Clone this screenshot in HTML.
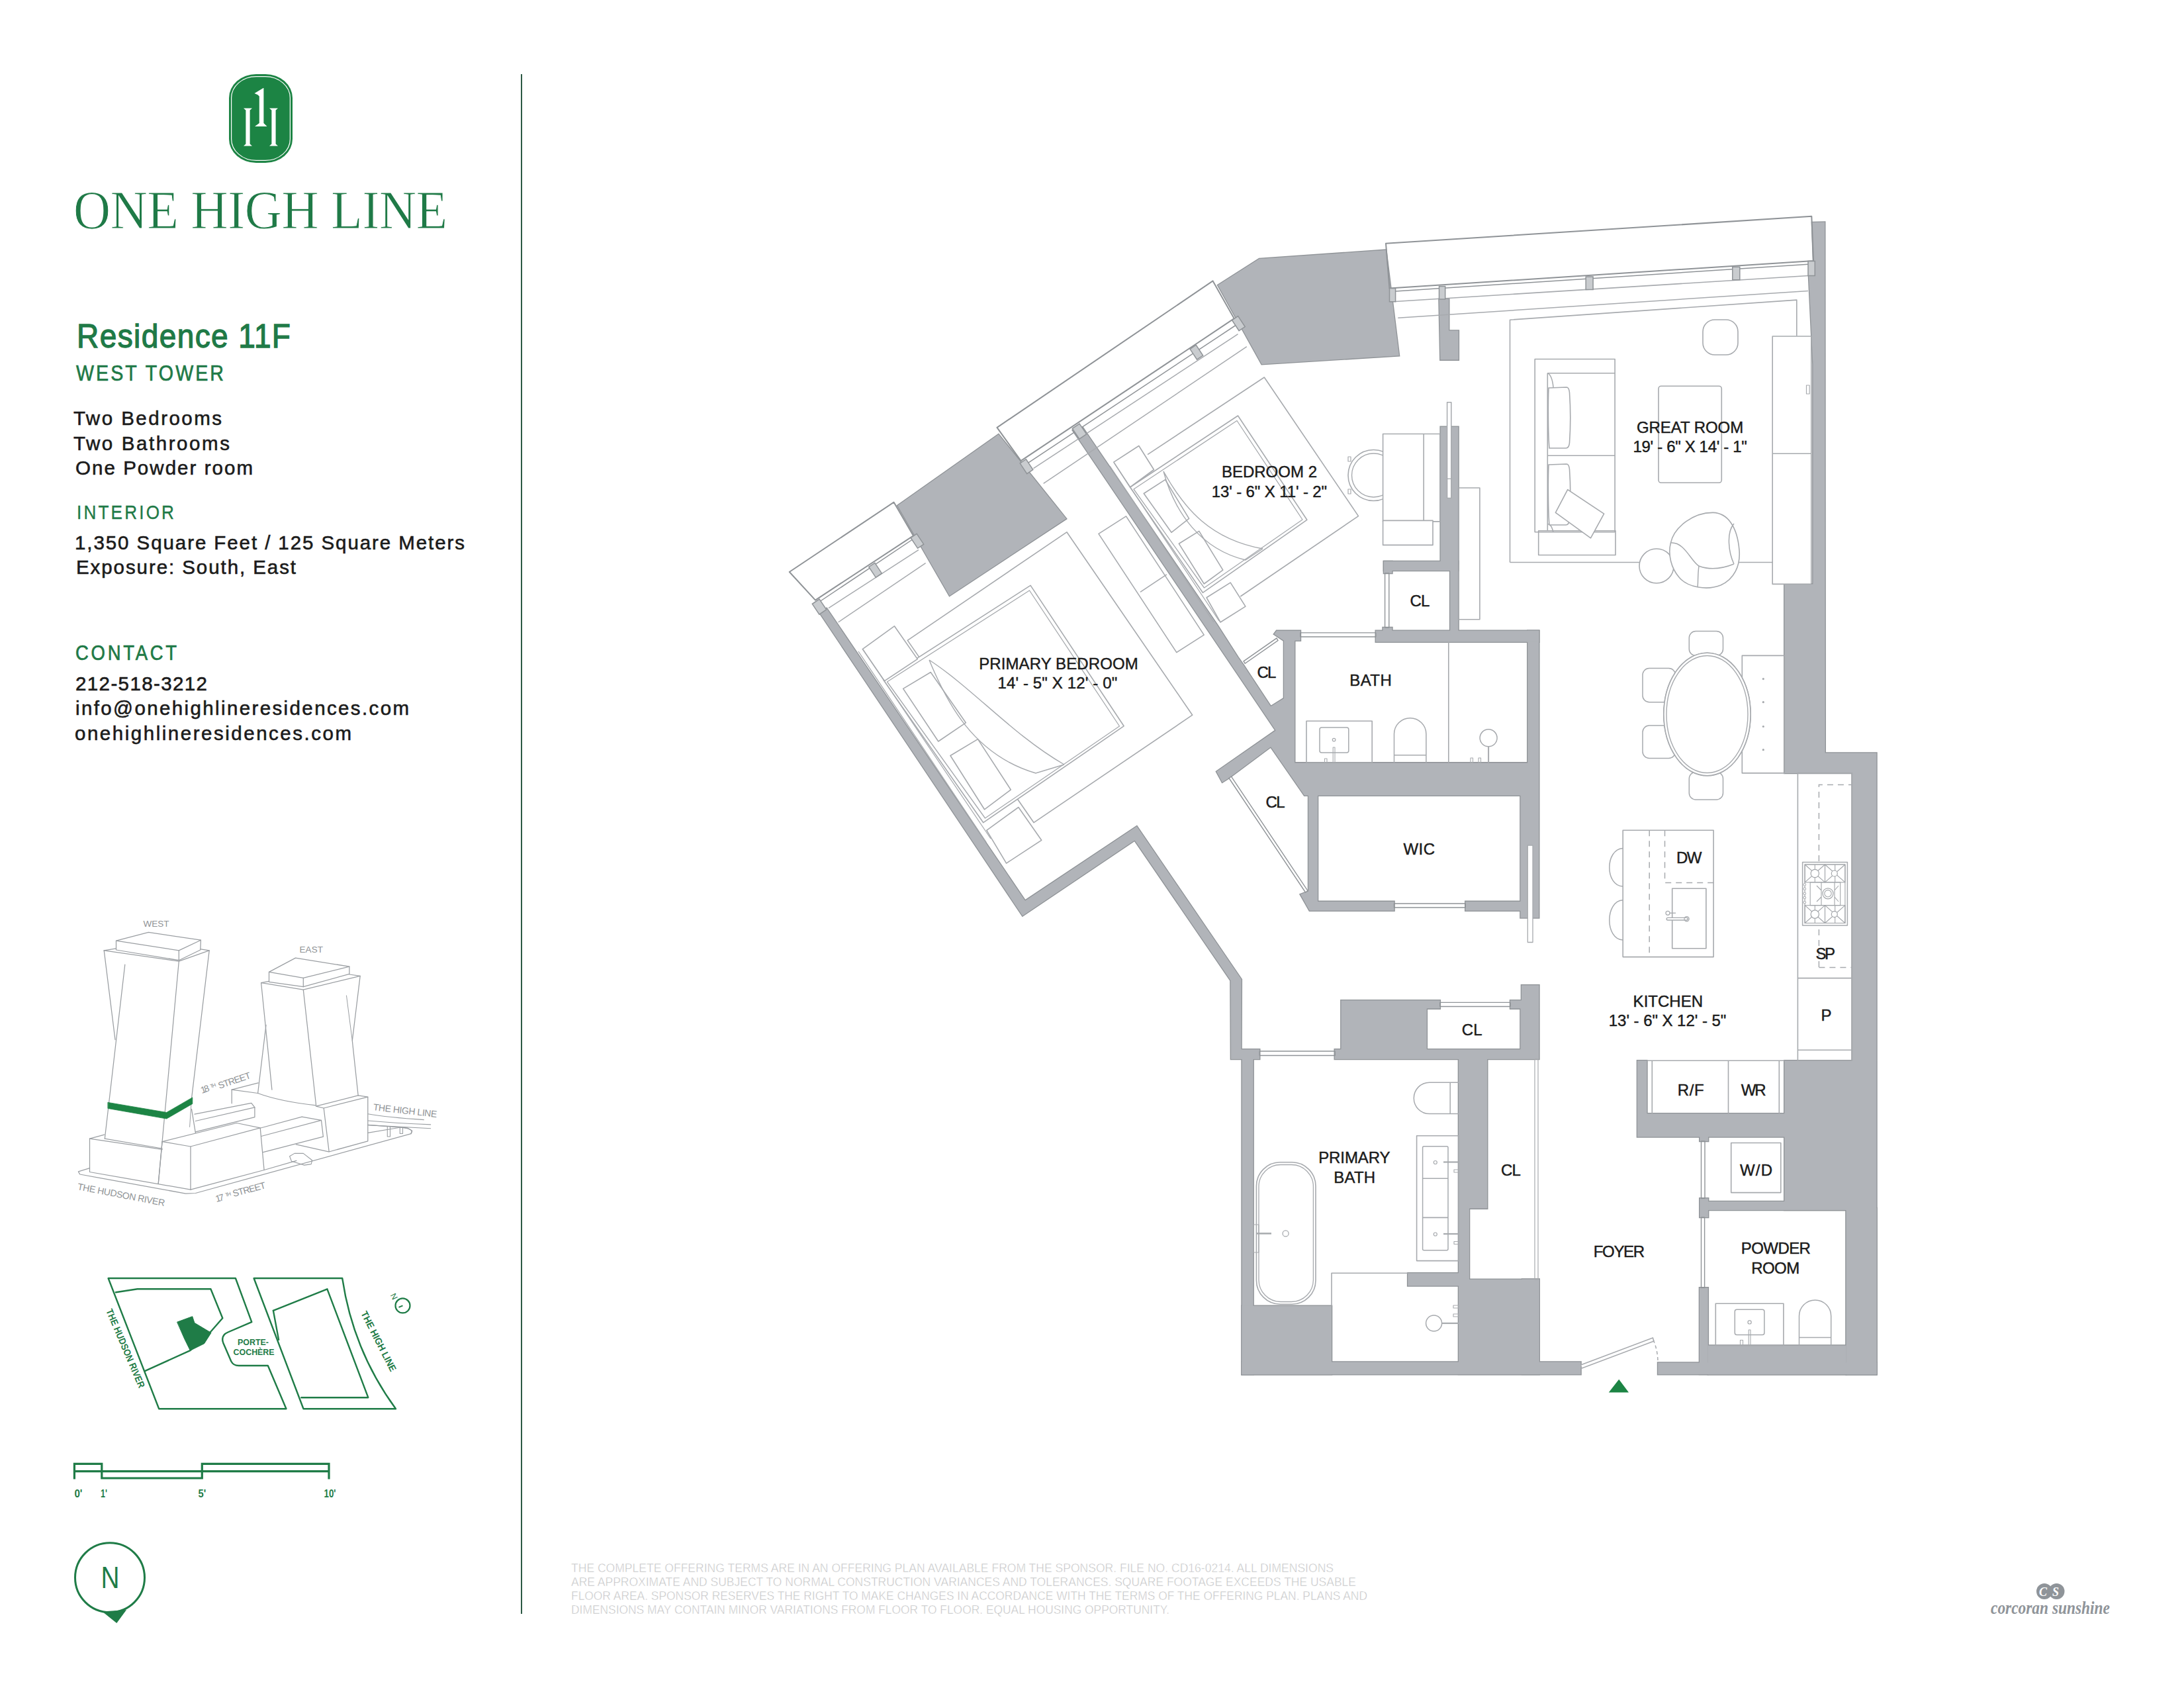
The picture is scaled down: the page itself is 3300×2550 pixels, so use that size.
<!DOCTYPE html>
<html><head><meta charset="utf-8"><style>
html,body{margin:0;padding:0;background:#fff;width:3300px;height:2550px;overflow:hidden}
svg{display:block}
</style></head><body>
<svg width="3300" height="2550" viewBox="0 0 3300 2550">
<rect width="3300" height="2550" fill="#ffffff"/>
<rect x="346" y="112" width="96" height="134" rx="41" ry="36" fill="#1c8444"/>
<rect x="349.6" y="115.6" width="88.8" height="126.8" rx="37.5" ry="32.5" fill="none" stroke="#ffffff" stroke-width="1.2"/>
<path d="M368.0,163.5 L381.0,163.5 L377.6,166.5 L377.6,217.5 L381.0,220.5 L368.0,220.5 L371.4,217.5 L371.4,166.5 Z" fill="#ffffff"/>
<path d="M407.0,163.5 L420.0,163.5 L416.6,166.5 L416.6,217.5 L420.0,220.5 L407.0,220.5 L410.4,217.5 L410.4,166.5 Z" fill="#ffffff"/>
<path d="M384.5,141 L397.8,133 L398.4,133 L398.4,186 L403.5,191 L385,191 L391.8,186 L391.8,145.5 L389.5,143.2 Z" fill="#ffffff"/>
<g transform="translate(111,344.7) scale(0.94,1)"><text x="0" y="0" font-family="Liberation Serif" font-size="82.5" fill="#1f7a47" textLength="601.1" lengthAdjust="spacing" stroke="#ffffff" stroke-width="1.0">ONE HIGH LINE</text></g>
<g transform="translate(116,525) scale(0.93,1)"><text x="0" y="0" font-family="Liberation Sans" font-size="49.5" fill="#1f7a47" textLength="347.3" lengthAdjust="spacing" stroke="#1f7a47" stroke-width="1.3">Residence 11F</text></g>
<g transform="translate(115,575.3) scale(0.88,1)"><text x="0" y="0" font-family="Liberation Sans" font-size="32.5" fill="#1f7a47" textLength="253.4" lengthAdjust="spacing" stroke="#1f7a47" stroke-width="0.7">WEST TOWER</text></g>
<text x="111" y="642" font-family="Liberation Sans" font-size="29.5" font-weight="normal" fill="#1b1b1b" text-anchor="start" textLength="224" lengthAdjust="spacing" stroke="#1b1b1b" stroke-width="0.6">Two Bedrooms</text>
<text x="111" y="680" font-family="Liberation Sans" font-size="29.5" font-weight="normal" fill="#1b1b1b" text-anchor="start" textLength="236" lengthAdjust="spacing" stroke="#1b1b1b" stroke-width="0.6">Two Bathrooms</text>
<text x="114" y="717.4" font-family="Liberation Sans" font-size="29.5" font-weight="normal" fill="#1b1b1b" text-anchor="start" textLength="268" lengthAdjust="spacing" stroke="#1b1b1b" stroke-width="0.6">One Powder room</text>
<g transform="translate(116,783.5) scale(0.9,1)"><text x="0" y="0" font-family="Liberation Sans" font-size="29" fill="#1f7a47" textLength="163.3" lengthAdjust="spacing" stroke="#1f7a47" stroke-width="0.4">INTERIOR</text></g>
<text x="113" y="830" font-family="Liberation Sans" font-size="29.5" font-weight="normal" fill="#1b1b1b" text-anchor="start" textLength="589" lengthAdjust="spacing" stroke="#1b1b1b" stroke-width="0.6">1,350 Square Feet / 125 Square Meters</text>
<text x="115" y="867" font-family="Liberation Sans" font-size="29.5" font-weight="normal" fill="#1b1b1b" text-anchor="start" textLength="332" lengthAdjust="spacing" stroke="#1b1b1b" stroke-width="0.6">Exposure: South, East</text>
<g transform="translate(114,997) scale(0.9,1)"><text x="0" y="0" font-family="Liberation Sans" font-size="30.5" fill="#1f7a47" textLength="170.0" lengthAdjust="spacing" stroke="#1f7a47" stroke-width="0.7">CONTACT</text></g>
<text x="114" y="1042.8" font-family="Liberation Sans" font-size="29.5" font-weight="normal" fill="#1b1b1b" text-anchor="start" textLength="199" lengthAdjust="spacing" stroke="#1b1b1b" stroke-width="0.6">212-518-3212</text>
<text x="114" y="1080" font-family="Liberation Sans" font-size="29.5" font-weight="normal" fill="#1b1b1b" text-anchor="start" textLength="504" lengthAdjust="spacing" stroke="#1b1b1b" stroke-width="0.6">info@onehighlineresidences.com</text>
<text x="113" y="1118" font-family="Liberation Sans" font-size="29.5" font-weight="normal" fill="#1b1b1b" text-anchor="start" textLength="418" lengthAdjust="spacing" stroke="#1b1b1b" stroke-width="0.6">onehighlineresidences.com</text>
<rect x="787" y="112" width="2" height="2326" fill="#2d5a45"/>
<text x="863" y="2374.5" font-family="Liberation Sans" font-size="19" font-weight="normal" fill="#bdbec0" text-anchor="start" textLength="1152" lengthAdjust="spacingAndGlyphs" stroke="#ffffff" stroke-width="0.55">THE COMPLETE OFFERING TERMS ARE IN AN OFFERING PLAN AVAILABLE FROM THE SPONSOR. FILE NO. CD16-0214. ALL DIMENSIONS</text>
<text x="863" y="2395.6" font-family="Liberation Sans" font-size="19" font-weight="normal" fill="#bdbec0" text-anchor="start" textLength="1186" lengthAdjust="spacingAndGlyphs" stroke="#ffffff" stroke-width="0.55">ARE APPROXIMATE AND SUBJECT TO NORMAL CONSTRUCTION VARIANCES AND TOLERANCES. SQUARE FOOTAGE EXCEEDS THE USABLE</text>
<text x="863" y="2416.7" font-family="Liberation Sans" font-size="19" font-weight="normal" fill="#bdbec0" text-anchor="start" textLength="1203" lengthAdjust="spacingAndGlyphs" stroke="#ffffff" stroke-width="0.55">FLOOR AREA. SPONSOR RESERVES THE RIGHT TO MAKE CHANGES IN ACCORDANCE WITH THE TERMS OF THE OFFERING PLAN. PLANS AND</text>
<text x="863" y="2437.8" font-family="Liberation Sans" font-size="19" font-weight="normal" fill="#bdbec0" text-anchor="start" textLength="904" lengthAdjust="spacingAndGlyphs" stroke="#ffffff" stroke-width="0.55">DIMENSIONS MAY CONTAIN MINOR VARIATIONS FROM FLOOR TO FLOOR. EQUAL HOUSING OPPORTUNITY.</text>
<circle cx="3089" cy="2404" r="12" fill="#8f9499"/><circle cx="3107.5" cy="2404" r="12" fill="#8f9499"/>
<text x="3081" y="2411" font-family="Liberation Serif" font-size="18" font-weight="bold" fill="#ffffff" text-anchor="start" font-style="italic">C</text>
<text x="3101" y="2411" font-family="Liberation Serif" font-size="18" font-weight="bold" fill="#ffffff" text-anchor="start" font-style="italic">S</text>
<text x="3008" y="2437.7" font-family="Liberation Serif" font-size="27" font-weight="bold" fill="#8f9499" text-anchor="start" textLength="180" lengthAdjust="spacingAndGlyphs" font-style="italic">corcoran sunshine</text>
<polygon points="1238.0,925.0 1545.0,1383.5 1714.5,1269.4 1859.5,1481.2 1860.0,1600.0 1903.2,1600.0 1903.2,1585.2 1875.5,1585.2 1875.8,1479.6 1717.7,1248.3 1549.0,1360.7 1249.0,919.0" fill="#8f9397" stroke="#8f9397" stroke-width="2.6" stroke-linejoin="miter"/>
<polygon points="1876.6,1595.0 1893.6,1595.0 1893.6,2076.2 1876.6,2076.2" fill="#8f9397" stroke="#8f9397" stroke-width="2.6" stroke-linejoin="miter"/>
<polygon points="1876.6,1972.8 2012.0,1972.8 2012.0,2076.2 1876.6,2076.2" fill="#8f9397" stroke="#8f9397" stroke-width="2.6" stroke-linejoin="miter"/>
<polygon points="1876.6,2057.5 2388.5,2057.5 2388.5,2076.2 1876.6,2076.2" fill="#8f9397" stroke="#8f9397" stroke-width="2.6" stroke-linejoin="miter"/>
<polygon points="2505.1,2058.5 2835.4,2058.5 2835.4,2076.2 2505.1,2076.2" fill="#8f9397" stroke="#8f9397" stroke-width="2.6" stroke-linejoin="miter"/>
<polygon points="2127.2,1923.2 2204.0,1923.2 2204.0,1942.4 2127.2,1942.4" fill="#8f9397" stroke="#8f9397" stroke-width="2.6" stroke-linejoin="miter"/>
<polygon points="2204.0,1596.0 2247.2,1596.0 2247.2,1825.6 2220.0,1825.6 2220.0,1932.8 2325.6,1932.8 2325.6,2076.0 2204.0,2076.0" fill="#8f9397" stroke="#8f9397" stroke-width="2.6" stroke-linejoin="miter"/>
<polygon points="2300.0,1932.6 2325.6,1932.6 2325.6,2076.0 2300.0,2076.0" fill="#8f9397" stroke="#8f9397" stroke-width="2.6" stroke-linejoin="miter"/>
<polygon points="2026.4,1511.3 2175.8,1511.3 2175.8,1523.6 2155.8,1523.6 2155.8,1585.2 2297.5,1585.2 2297.5,1523.6 2282.1,1523.6 2282.1,1511.3 2299.0,1511.3 2299.0,1488.2 2325.4,1488.2 2325.4,1600.0 2016.8,1600.0 2016.8,1585.2 2026.4,1585.2" fill="#8f9397" stroke="#8f9397" stroke-width="2.6" stroke-linejoin="miter"/>
<polygon points="1621.0,650.0 1636.0,646.0 1839.3,944.2 1870.4,992.7 1879.1,1005.1 1920.1,1067.3 1940.0,1054.9 1940.0,967.8 1925.1,957.9 1928.9,952.9 1964.9,952.9 1964.9,967.8 1956.2,967.8 1956.2,1152.4 2308.3,1152.4 2308.3,952.7 2325.3,952.7 2325.2,1386.5 2297.5,1386.5 2297.5,1375.7 2214.3,1375.7 2214.3,1361.9 2297.5,1361.9 2297.5,1201.7 1991.0,1201.7 1991.0,1361.9 2106.5,1361.9 2106.5,1375.7 1978.7,1375.7 1964.8,1351.1 1977.1,1346.5 1977.1,1201.7 1971.0,1201.7 1920.1,1128.3 1856.7,1175.5 1846.8,1181.7 1838.1,1165.6 1927.6,1103.4" fill="#8f9397" stroke="#8f9397" stroke-width="2.6" stroke-linejoin="miter"/>
<polygon points="2078.8,952.7 2325.3,952.7 2325.3,969.7 2078.8,969.7" fill="#8f9397" stroke="#8f9397" stroke-width="2.6" stroke-linejoin="miter"/>
<polygon points="2176.7,644.7 2203.5,644.7 2203.5,852.0 2176.7,852.0" fill="#8f9397" stroke="#8f9397" stroke-width="2.6" stroke-linejoin="miter"/>
<polygon points="2091.0,848.0 2203.5,848.0 2203.5,861.9 2091.0,861.9" fill="#8f9397" stroke="#8f9397" stroke-width="2.6" stroke-linejoin="miter"/>
<polygon points="2091.0,848.0 2103.4,848.0 2103.4,866.0 2091.0,866.0" fill="#8f9397" stroke="#8f9397" stroke-width="2.6" stroke-linejoin="miter"/>
<polygon points="2191.2,848.0 2203.5,848.0 2203.5,960.0 2191.2,960.0" fill="#8f9397" stroke="#8f9397" stroke-width="2.6" stroke-linejoin="miter"/>
<polygon points="2089.6,948.0 2103.4,948.0 2103.4,960.0 2089.6,960.0" fill="#8f9397" stroke="#8f9397" stroke-width="2.6" stroke-linejoin="miter"/>
<polygon points="2738.0,336.0 2757.2,335.6 2757.7,1137.5 2835.4,1137.5 2835.4,2076.2 2789.7,2076.2 2789.7,1827.9 2696.3,1827.9 2696.3,1602.3 2798.6,1602.3 2798.6,1167.9 2696.3,1167.9 2696.3,882.4 2739.4,882.4 2739.4,550.0 2733.0,416.6 2740.0,394.0" fill="#8f9397" stroke="#8f9397" stroke-width="2.6" stroke-linejoin="miter"/>
<polygon points="2474.0,1602.3 2488.4,1602.3 2488.4,1682.3 2700.0,1682.3 2700.0,1717.5 2474.0,1717.5" fill="#8f9397" stroke="#8f9397" stroke-width="2.6" stroke-linejoin="miter"/>
<polygon points="2568.3,1712.7 2581.1,1712.7 2581.1,1723.9 2568.3,1723.9" fill="#8f9397" stroke="#8f9397" stroke-width="2.6" stroke-linejoin="miter"/>
<polygon points="2576.3,1815.0 2792.0,1815.0 2792.0,1827.9 2576.3,1827.9" fill="#8f9397" stroke="#8f9397" stroke-width="2.6" stroke-linejoin="miter"/>
<polygon points="2568.3,1810.3 2581.1,1810.3 2581.1,1839.0 2568.3,1839.0" fill="#8f9397" stroke="#8f9397" stroke-width="2.6" stroke-linejoin="miter"/>
<polygon points="2568.0,1945.4 2580.8,1945.4 2580.8,2076.0 2568.0,2076.0" fill="#8f9397" stroke="#8f9397" stroke-width="2.6" stroke-linejoin="miter"/>
<polygon points="2789.7,1825.0 2835.4,1825.0 2835.4,2076.2 2789.7,2076.2" fill="#8f9397" stroke="#8f9397" stroke-width="2.6" stroke-linejoin="miter"/>
<polygon points="2580.8,2032.6 2789.7,2032.6 2789.7,2076.2 2580.8,2076.2" fill="#8f9397" stroke="#8f9397" stroke-width="2.6" stroke-linejoin="miter"/>
<polygon points="1356.2,763.7 1508.8,656.2 1611.0,783.6 1434.7,900.0" fill="#8f9397" stroke="#8f9397" stroke-width="2.6" stroke-linejoin="miter"/>
<polygon points="1840.2,430.8 1902.7,391.0 2094.2,377.7 2114.0,537.2 1906.5,550.2" fill="#8f9397" stroke="#8f9397" stroke-width="2.6" stroke-linejoin="miter"/>
<polygon points="2174.5,452.0 2189.2,452.0 2189.2,499.6 2203.8,499.6 2203.8,543.6 2176.4,543.6" fill="#8f9397" stroke="#8f9397" stroke-width="2.6" stroke-linejoin="miter"/>
<polygon points="1238.0,925.0 1545.0,1383.5 1714.5,1269.4 1859.5,1481.2 1860.0,1600.0 1903.2,1600.0 1903.2,1585.2 1875.5,1585.2 1875.8,1479.6 1717.7,1248.3 1549.0,1360.7 1249.0,919.0" fill="#b1b4b9"/>
<polygon points="1876.6,1595.0 1893.6,1595.0 1893.6,2076.2 1876.6,2076.2" fill="#b1b4b9"/>
<polygon points="1876.6,1972.8 2012.0,1972.8 2012.0,2076.2 1876.6,2076.2" fill="#b1b4b9"/>
<polygon points="1876.6,2057.5 2388.5,2057.5 2388.5,2076.2 1876.6,2076.2" fill="#b1b4b9"/>
<polygon points="2505.1,2058.5 2835.4,2058.5 2835.4,2076.2 2505.1,2076.2" fill="#b1b4b9"/>
<polygon points="2127.2,1923.2 2204.0,1923.2 2204.0,1942.4 2127.2,1942.4" fill="#b1b4b9"/>
<polygon points="2204.0,1596.0 2247.2,1596.0 2247.2,1825.6 2220.0,1825.6 2220.0,1932.8 2325.6,1932.8 2325.6,2076.0 2204.0,2076.0" fill="#b1b4b9"/>
<polygon points="2300.0,1932.6 2325.6,1932.6 2325.6,2076.0 2300.0,2076.0" fill="#b1b4b9"/>
<polygon points="2026.4,1511.3 2175.8,1511.3 2175.8,1523.6 2155.8,1523.6 2155.8,1585.2 2297.5,1585.2 2297.5,1523.6 2282.1,1523.6 2282.1,1511.3 2299.0,1511.3 2299.0,1488.2 2325.4,1488.2 2325.4,1600.0 2016.8,1600.0 2016.8,1585.2 2026.4,1585.2" fill="#b1b4b9"/>
<polygon points="1621.0,650.0 1636.0,646.0 1839.3,944.2 1870.4,992.7 1879.1,1005.1 1920.1,1067.3 1940.0,1054.9 1940.0,967.8 1925.1,957.9 1928.9,952.9 1964.9,952.9 1964.9,967.8 1956.2,967.8 1956.2,1152.4 2308.3,1152.4 2308.3,952.7 2325.3,952.7 2325.2,1386.5 2297.5,1386.5 2297.5,1375.7 2214.3,1375.7 2214.3,1361.9 2297.5,1361.9 2297.5,1201.7 1991.0,1201.7 1991.0,1361.9 2106.5,1361.9 2106.5,1375.7 1978.7,1375.7 1964.8,1351.1 1977.1,1346.5 1977.1,1201.7 1971.0,1201.7 1920.1,1128.3 1856.7,1175.5 1846.8,1181.7 1838.1,1165.6 1927.6,1103.4" fill="#b1b4b9"/>
<polygon points="2078.8,952.7 2325.3,952.7 2325.3,969.7 2078.8,969.7" fill="#b1b4b9"/>
<polygon points="2176.7,644.7 2203.5,644.7 2203.5,852.0 2176.7,852.0" fill="#b1b4b9"/>
<polygon points="2091.0,848.0 2203.5,848.0 2203.5,861.9 2091.0,861.9" fill="#b1b4b9"/>
<polygon points="2091.0,848.0 2103.4,848.0 2103.4,866.0 2091.0,866.0" fill="#b1b4b9"/>
<polygon points="2191.2,848.0 2203.5,848.0 2203.5,960.0 2191.2,960.0" fill="#b1b4b9"/>
<polygon points="2089.6,948.0 2103.4,948.0 2103.4,960.0 2089.6,960.0" fill="#b1b4b9"/>
<polygon points="2738.0,336.0 2757.2,335.6 2757.7,1137.5 2835.4,1137.5 2835.4,2076.2 2789.7,2076.2 2789.7,1827.9 2696.3,1827.9 2696.3,1602.3 2798.6,1602.3 2798.6,1167.9 2696.3,1167.9 2696.3,882.4 2739.4,882.4 2739.4,550.0 2733.0,416.6 2740.0,394.0" fill="#b1b4b9"/>
<polygon points="2474.0,1602.3 2488.4,1602.3 2488.4,1682.3 2700.0,1682.3 2700.0,1717.5 2474.0,1717.5" fill="#b1b4b9"/>
<polygon points="2568.3,1712.7 2581.1,1712.7 2581.1,1723.9 2568.3,1723.9" fill="#b1b4b9"/>
<polygon points="2576.3,1815.0 2792.0,1815.0 2792.0,1827.9 2576.3,1827.9" fill="#b1b4b9"/>
<polygon points="2568.3,1810.3 2581.1,1810.3 2581.1,1839.0 2568.3,1839.0" fill="#b1b4b9"/>
<polygon points="2568.0,1945.4 2580.8,1945.4 2580.8,2076.0 2568.0,2076.0" fill="#b1b4b9"/>
<polygon points="2789.7,1825.0 2835.4,1825.0 2835.4,2076.2 2789.7,2076.2" fill="#b1b4b9"/>
<polygon points="2580.8,2032.6 2789.7,2032.6 2789.7,2076.2 2580.8,2076.2" fill="#b1b4b9"/>
<polygon points="1356.2,763.7 1508.8,656.2 1611.0,783.6 1434.7,900.0" fill="#b1b4b9"/>
<polygon points="1840.2,430.8 1902.7,391.0 2094.2,377.7 2114.0,537.2 1906.5,550.2" fill="#b1b4b9"/>
<polygon points="2174.5,452.0 2189.2,452.0 2189.2,499.6 2203.8,499.6 2203.8,543.6 2176.4,543.6" fill="#b1b4b9"/>
<polygon points="2094.0,367.8 2737.3,326.8 2740.1,393.9 2099.5,435.5" fill="none" stroke="#8f9397" stroke-width="2.0" stroke-linejoin="round"/>
<polygon points="1506.5,645.8 1832.6,424.4 1864.8,481.2 1542.6,696.2" fill="none" stroke="#8f9397" stroke-width="2.0" stroke-linejoin="round"/>
<polygon points="1192.8,864.0 1350.6,758.7 1380.0,809.3 1232.0,906.6" fill="none" stroke="#8f9397" stroke-width="2.0" stroke-linejoin="round"/>
<line x1="2108.6" y1="440.0" x2="2732.0" y2="399.3" stroke="#8f9397" stroke-width="1.5"/>
<line x1="2108.0" y1="455.5" x2="2732.0" y2="416.5" stroke="#a7aaae" stroke-width="1.5"/>
<line x1="2112.3" y1="480.2" x2="2732.0" y2="439.5" stroke="#a7aaae" stroke-width="1.5"/>
<polygon points="2099.5,435.5 2108.6,435.5 2108.6,455.7 2099.5,455.7" fill="#c9cccf" stroke="#8f9397" stroke-width="1.5" stroke-linejoin="miter"/>
<polygon points="2174.5,432.6 2183.7,432.6 2183.7,452.0 2174.5,452.0" fill="#c9cccf" stroke="#8f9397" stroke-width="1.5" stroke-linejoin="miter"/>
<polygon points="2396.2,418.0 2407.1,418.0 2407.1,437.4 2396.2,437.4" fill="#c9cccf" stroke="#8f9397" stroke-width="1.5" stroke-linejoin="miter"/>
<polygon points="2617.8,403.3 2628.8,403.3 2628.8,422.7 2617.8,422.7" fill="#c9cccf" stroke="#8f9397" stroke-width="1.5" stroke-linejoin="miter"/>
<polygon points="2732.0,394.5 2742.3,394.5 2742.3,416.5 2732.0,416.5" fill="#c9cccf" stroke="#8f9397" stroke-width="1.5" stroke-linejoin="miter"/>
<line x1="1553.0" y1="699.6" x2="1867.7" y2="491.0" stroke="#8f9397" stroke-width="1.5"/>
<line x1="1561.5" y1="707.6" x2="1870.5" y2="504.7" stroke="#a7aaae" stroke-width="1.5"/>
<line x1="1576.7" y1="730.3" x2="1883.8" y2="523.7" stroke="#a7aaae" stroke-width="1.5"/>
<polygon points="1550.3,693.7 1560.8,709.6 1551.7,715.7 1541.2,699.8" fill="#c9cccf" stroke="#8f9397" stroke-width="1.5" stroke-linejoin="miter"/>
<polygon points="1807.2,521.2 1817.7,537.1 1808.6,543.2 1798.1,527.3" fill="#c9cccf" stroke="#8f9397" stroke-width="1.5" stroke-linejoin="miter"/>
<polygon points="1870.7,477.6 1881.2,493.5 1872.1,499.6 1861.6,483.7" fill="#c9cccf" stroke="#8f9397" stroke-width="1.5" stroke-linejoin="miter"/>
<line x1="1234.5" y1="911.5" x2="1379.5" y2="814.5" stroke="#8f9397" stroke-width="1.5"/>
<line x1="1252.0" y1="918.6" x2="1388.0" y2="830.6" stroke="#a7aaae" stroke-width="1.5"/>
<line x1="1266.6" y1="940.0" x2="1398.6" y2="850.6" stroke="#a7aaae" stroke-width="1.5"/>
<polygon points="1321.9,850.3 1332.4,866.2 1323.3,872.3 1312.8,856.4" fill="#c9cccf" stroke="#8f9397" stroke-width="1.5" stroke-linejoin="miter"/>
<polygon points="1385.2,806.3 1395.7,822.2 1386.6,828.3 1376.1,812.4" fill="#c9cccf" stroke="#8f9397" stroke-width="1.5" stroke-linejoin="miter"/>
<polygon points="1238.1,905.1 1248.7,920.9 1237.9,928.1 1227.3,912.3" fill="#c9cccf" stroke="#8f9397" stroke-width="1.5" stroke-linejoin="miter"/>
<polygon points="1631.1,640.1 1641.7,655.9 1630.9,663.1 1620.3,647.3" fill="#c9cccf" stroke="#8f9397" stroke-width="1.5" stroke-linejoin="miter"/>
<polyline points="2281.5,849.5 2281.5,483.2 2714.8,453.1 2714.8,507.6" fill="none" stroke="#a7aaae" stroke-width="1.6" stroke-linejoin="round"/>
<line x1="2281.5" y1="849.5" x2="2678.0" y2="849.5" stroke="#a7aaae" stroke-width="1.6"/>
<polygon points="2319.2,542.5 2440.1,542.5 2440.1,803.7 2319.2,803.7" fill="none" stroke="#a7aaae" stroke-width="1.6" stroke-linejoin="round"/>
<polygon points="2324.7,801.8 2441.0,801.8 2441.0,838.5 2324.7,838.5" fill="none" stroke="#a7aaae" stroke-width="1.6" stroke-linejoin="round"/>
<line x1="2338.3" y1="563.7" x2="2440.1" y2="563.7" stroke="#a7aaae" stroke-width="1.6"/>
<line x1="2338.3" y1="563.7" x2="2338.3" y2="801.8" stroke="#a7aaae" stroke-width="1.6"/>
<line x1="2338.3" y1="688.3" x2="2440.1" y2="688.3" stroke="#a7aaae" stroke-width="1.6"/>
<path d="M2338.5,563.7 C2343,566 2346,575 2347,585 M2338.5,792 C2343,790 2346,800 2347,803.7" fill="none" stroke="#a7aaae" stroke-width="1.5"/>
<path d="M2340,586 L2367,585 C2370,585 2371,588 2371.5,593 C2373,615 2373,647 2371.5,669 C2371,674 2369,677 2366,677 L2341,677 C2339,655 2339,605 2340,586 Z" fill="#fff" stroke="#a7aaae" stroke-width="1.6"/>
<path d="M2340,702 L2367,701 C2370,701 2371,704 2371.5,709 C2373,731 2373,763 2371.5,785 C2371,790 2369,793 2366,793 L2341,793 C2339,771 2339,721 2340,702 Z" fill="#fff" stroke="#a7aaae" stroke-width="1.6"/>
<polygon points="2350.4,774.4 2368.7,739.6 2423.6,776.2 2403.5,812.8" fill="#fff" stroke="#a7aaae" stroke-width="1.6" stroke-linejoin="round"/>
<rect x="2506" y="583.2" width="95.3" height="146.1" rx="4" fill="none" stroke="#a7aaae" stroke-width="1.6"/>
<rect x="2573" y="483" width="53" height="53" rx="18" fill="#fff" stroke="#a7aaae" stroke-width="1.6"/>
<polygon points="2678.2,508.0 2736.8,508.0 2736.8,882.4 2678.2,882.4" fill="#fff" stroke="#a7aaae" stroke-width="1.6" stroke-linejoin="round"/>
<line x1="2678.2" y1="685.3" x2="2736.8" y2="685.3" stroke="#a7aaae" stroke-width="1.6"/>
<polygon points="2729.5,582.0 2734.2,582.0 2734.2,595.0 2729.5,595.0" fill="none" stroke="#a7aaae" stroke-width="1.2" stroke-linejoin="round"/>
<circle cx="2503" cy="855" r="26" fill="#fff" stroke="#a7aaae" stroke-width="1.6"/>
<path d="M2524.4,820.1 C2530,795 2560,774 2588.5,774.4 C2610,775 2625,795 2628,831 C2630,855 2620,875 2600,884 C2580,892 2550,888 2537,872 C2525,858 2520,838 2524.4,820.1 Z" fill="#fff" stroke="#a7aaae" stroke-width="1.6"/>
<path d="M2524.4,820.1 C2545,818 2555,848 2567,855 C2585,862 2605,858 2620,852 M2620,791 C2608,805 2612,835 2620,852 M2567,855 C2565,870 2566,880 2565,887" fill="none" stroke="#a7aaae" stroke-width="1.5"/>
<circle cx="2075.5" cy="718" r="38.5" fill="none" stroke="#a7aaae" stroke-width="1.6"/>
<circle cx="2075.5" cy="718" r="33" fill="none" stroke="#a7aaae" stroke-width="1.4"/>
<polygon points="2037.0,690.0 2041.0,690.0 2041.0,697.0 2037.0,697.0" fill="none" stroke="#a7aaae" stroke-width="1.2" stroke-linejoin="round"/>
<polygon points="2037.0,739.0 2041.0,739.0 2041.0,746.0 2037.0,746.0" fill="none" stroke="#a7aaae" stroke-width="1.2" stroke-linejoin="round"/>
<polygon points="2089.6,655.5 2175.8,655.5 2175.8,787.9 2089.6,787.9" fill="#fff" stroke="#a7aaae" stroke-width="1.6" stroke-linejoin="round"/>
<line x1="2151.2" y1="655.5" x2="2151.2" y2="786.0" stroke="#a7aaae" stroke-width="1.6"/>
<polygon points="2089.6,786.4 2165.0,786.4 2165.0,823.4 2089.6,823.4" fill="#fff" stroke="#a7aaae" stroke-width="1.6" stroke-linejoin="round"/>
<polygon points="2186.6,607.7 2192.8,607.7 2192.8,752.5 2186.6,752.5" fill="#fff" stroke="#a7aaae" stroke-width="1.5" stroke-linejoin="round"/>
<line x1="2186.6" y1="723.3" x2="2192.8" y2="723.3" stroke="#a7aaae" stroke-width="1.3"/>
<polygon points="2203.5,737.0 2235.9,737.0 2235.9,935.8 2203.5,935.8" fill="none" stroke="#a7aaae" stroke-width="1.6" stroke-linejoin="round"/>
<polygon points="2632.3,990.4 2696.3,990.4 2696.3,1167.9 2632.3,1167.9" fill="none" stroke="#a7aaae" stroke-width="1.6" stroke-linejoin="round"/>
<circle cx="2664.3" cy="1025.6" r="1.6" fill="#a7aaae"/>
<circle cx="2664.3" cy="1060.7" r="1.6" fill="#a7aaae"/>
<circle cx="2664.3" cy="1097.5" r="1.6" fill="#a7aaae"/>
<circle cx="2664.3" cy="1132.7" r="1.6" fill="#a7aaae"/>
<ellipse cx="2579.5" cy="1079" rx="65.6" ry="92.8" fill="#fff" stroke="#a7aaae" stroke-width="1.6"/>
<ellipse cx="2579.5" cy="1079" rx="61.5" ry="88.5" fill="none" stroke="#a7aaae" stroke-width="1.4"/>
<rect x="2552.3" y="953.6" width="51.2" height="36.8" rx="10" fill="none" stroke="#a7aaae" stroke-width="1.5"/>
<rect x="2552.3" y="1166.3" width="51.2" height="41.7" rx="10" fill="none" stroke="#a7aaae" stroke-width="1.5"/>
<rect x="2482" y="1009.6" width="49.5" height="51.1" rx="10" fill="none" stroke="#a7aaae" stroke-width="1.5"/>
<rect x="2482" y="1096" width="49.5" height="49.5" rx="10" fill="none" stroke="#a7aaae" stroke-width="1.5"/>
<ellipse cx="2579.5" cy="1079" rx="65.6" ry="92.8" fill="#fff" stroke="#a7aaae" stroke-width="1.6"/>
<ellipse cx="2579.5" cy="1079" rx="61.5" ry="88.5" fill="none" stroke="#a7aaae" stroke-width="1.4"/>
<polygon points="2716.4,1167.9 2798.6,1167.9 2798.6,1602.3 2716.4,1602.3" fill="none" stroke="#a7aaae" stroke-width="1.6" stroke-linejoin="round"/>
<line x1="2716.4" y1="1477.6" x2="2798.6" y2="1477.6" stroke="#a7aaae" stroke-width="1.6"/>
<line x1="2716.4" y1="1586.3" x2="2798.6" y2="1586.3" stroke="#a7aaae" stroke-width="1.6"/>
<path d="M2748.4,1461 L2748.4,1185.5 L2798.6,1185.5 M2748.4,1461.6 L2798.6,1461.6" fill="none" stroke="#a7aaae" stroke-width="1.5" stroke-dasharray="9,7"/>
<polygon points="2723.6,1302.5 2791.4,1302.5 2791.4,1398.0 2723.6,1398.0" fill="#fff" stroke="#a7aaae" stroke-width="1.5" stroke-linejoin="round"/>
<polygon points="2727.1,1306.0 2787.9,1306.0 2787.9,1394.5 2727.1,1394.5" fill="none" stroke="#a7aaae" stroke-width="1.2" stroke-linejoin="round"/>
<path d="M2727.1,1306 L2757.5,1332.9 M2757.5,1306 L2727.1,1332.9 M2742.3,1306 L2742.3,1332.9" stroke="#a3a6aa" stroke-width="1.1" fill="none"/>
<rect x="2727.1" y="1306" width="30.4" height="26.9" stroke="#a3a6aa" stroke-width="1.1" fill="none"/>
<path d="M2757.5,1306 L2787.9,1332.9 M2787.9,1306 L2757.5,1332.9 M2772.7,1306 L2772.7,1332.9" stroke="#a3a6aa" stroke-width="1.1" fill="none"/>
<rect x="2757.5" y="1306" width="30.4" height="26.9" stroke="#a3a6aa" stroke-width="1.1" fill="none"/>
<circle cx="2742.3" cy="1319.5" r="6.2" fill="#fff" stroke="#a3a6aa" stroke-width="1.2"/>
<circle cx="2771.8" cy="1319.5" r="4.5" fill="#fff" stroke="#a3a6aa" stroke-width="1.2"/>
<path d="M2727.1,1367.7 L2757.5,1394.5 M2757.5,1367.7 L2727.1,1394.5 M2742.3,1367.7 L2742.3,1394.5" stroke="#a3a6aa" stroke-width="1.1" fill="none"/>
<rect x="2727.1" y="1367.7" width="30.4" height="26.8" stroke="#a3a6aa" stroke-width="1.1" fill="none"/>
<path d="M2757.5,1367.7 L2787.9,1394.5 M2787.9,1367.7 L2757.5,1394.5 M2772.7,1367.7 L2772.7,1394.5" stroke="#a3a6aa" stroke-width="1.1" fill="none"/>
<rect x="2757.5" y="1367.7" width="30.4" height="26.8" stroke="#a3a6aa" stroke-width="1.1" fill="none"/>
<circle cx="2742.3" cy="1381.1" r="6.2" fill="#fff" stroke="#a3a6aa" stroke-width="1.2"/>
<circle cx="2771.8" cy="1381.1" r="4.5" fill="#fff" stroke="#a3a6aa" stroke-width="1.2"/>
<rect x="2735.2" y="1332.9" width="45.5" height="34.8" stroke="#a3a6aa" stroke-width="1.1" fill="none"/>
<path d="M2752,1332.9 L2752,1367.7 M2772,1332.9 L2772,1367.7 M2745,1338 L2752,1345 M2778,1338 L2772,1345 M2745,1362 L2752,1355 M2778,1362 L2772,1355" stroke="#a3a6aa" stroke-width="1.1" fill="none"/>
<circle cx="2762" cy="1349.8" r="8" fill="#fff" stroke="#a3a6aa" stroke-width="1.2"/>
<circle cx="2762" cy="1349.8" r="5.2" fill="none" stroke="#a3a6aa" stroke-width="1.1"/>
<circle cx="2726.8" cy="1336.4" r="1.8" fill="#fff" stroke="#a3a6aa" stroke-width="1"/>
<circle cx="2726.8" cy="1342.7" r="1.8" fill="#fff" stroke="#a3a6aa" stroke-width="1"/>
<circle cx="2726.8" cy="1349.8" r="1.8" fill="#fff" stroke="#a3a6aa" stroke-width="1"/>
<circle cx="2726.8" cy="1356" r="1.8" fill="#fff" stroke="#a3a6aa" stroke-width="1"/>
<circle cx="2726.8" cy="1363.2" r="1.8" fill="#fff" stroke="#a3a6aa" stroke-width="1"/>
<polygon points="2452.2,1254.3 2589.1,1254.3 2589.1,1445.6 2452.2,1445.6" fill="none" stroke="#a7aaae" stroke-width="1.6" stroke-linejoin="round"/>
<path d="M2492.2,1254.3 L2492.2,1445.6 M2515.5,1254.3 L2515.5,1333.6 L2589.1,1333.6" fill="none" stroke="#a7aaae" stroke-width="1.5" stroke-dasharray="9,7"/>
<polygon points="2526.7,1342.3 2577.9,1342.3 2577.9,1432.8 2526.7,1432.8" fill="none" stroke="#a7aaae" stroke-width="1.6" stroke-linejoin="round"/>
<path d="M2520,1388.2 L2548.6,1388.2" stroke="#a7aaae" stroke-width="5" stroke-linecap="round"/>
<path d="M2520,1388.2 L2548.6,1388.2" stroke="#fff" stroke-width="2.2" stroke-linecap="round"/>
<circle cx="2548.6" cy="1388.2" r="3.6" fill="none" stroke="#a7aaae" stroke-width="1.2"/>
<circle cx="2520" cy="1379.3" r="3" fill="none" stroke="#a7aaae" stroke-width="1.2"/>
<line x1="2523.0" y1="1379.3" x2="2532.0" y2="1379.3" stroke="#a7aaae" stroke-width="1.3"/>
<path d="M2452.2,1281.5 C2425,1283 2425,1338 2452.2,1339 M2452.2,1359.8 C2425,1361 2425,1419 2452.2,1420" fill="none" stroke="#a7aaae" stroke-width="1.5"/>
<line x1="2496.3" y1="1602.3" x2="2496.3" y2="1682.3" stroke="#a7aaae" stroke-width="1.6"/>
<line x1="2611.5" y1="1602.3" x2="2611.5" y2="1682.3" stroke="#a7aaae" stroke-width="1.6"/>
<line x1="2688.3" y1="1602.3" x2="2688.3" y2="1682.3" stroke="#a7aaae" stroke-width="1.6"/>
<line x1="2488.4" y1="1602.3" x2="2696.3" y2="1602.3" stroke="#a7aaae" stroke-width="1.6"/>
<polygon points="2615.7,1726.5 2690.8,1726.5 2690.8,1801.6 2615.7,1801.6" fill="none" stroke="#a7aaae" stroke-width="1.6" stroke-linejoin="round"/>
<polygon points="2570.5,1723.9 2576.0,1723.9 2576.0,1810.3 2570.5,1810.3" fill="none" stroke="#8f9397" stroke-width="1.4" stroke-linejoin="round"/>
<polygon points="2570.5,1839.0 2575.6,1839.0 2575.6,1945.4 2570.5,1945.4" fill="none" stroke="#8f9397" stroke-width="1.4" stroke-linejoin="round"/>
<polygon points="2592.3,1969.2 2694.9,1969.2 2694.9,2032.6 2592.3,2032.6" fill="none" stroke="#a7aaae" stroke-width="1.6" stroke-linejoin="round"/>
<rect x="2621.3" y="1978.2" width="44.6" height="38.2" rx="3" fill="none" stroke="#a7aaae" stroke-width="1.5"/>
<circle cx="2643.6" cy="1997.4" r="2.6" fill="none" stroke="#a7aaae" stroke-width="1.2"/>
<polygon points="2642.2,2009.0 2645.0,2009.0 2645.0,2032.6 2642.2,2032.6" fill="none" stroke="#a7aaae" stroke-width="1.1" stroke-linejoin="round"/>
<polygon points="2629.5,2024.5 2633.5,2024.5 2633.5,2032.6 2629.5,2032.6" fill="none" stroke="#a7aaae" stroke-width="1.1" stroke-linejoin="round"/>
<path d="M2718.5,2032.6 L2718.5,1988 A24.1,24.1 0 0 1 2766.7,1988 L2766.7,2032.6 M2718.5,2020.5 L2766.7,2020.5" fill="none" stroke="#a7aaae" stroke-width="1.5"/>
<path d="M2388.5,2062 L2497.4,2021 L2499,2026 L2390,2067 Z" fill="#fff" stroke="#a7aaae" stroke-width="1.5"/>
<path d="M2498,2024 Q2505,2040 2505,2058" fill="none" stroke="#a7aaae" stroke-width="1.5" stroke-dasharray="5,4"/>
<polygon points="2430.8,2103.6 2446.2,2083.8 2461,2103.6" fill="#1c8444"/>
<rect x="1898.4" y="1755.8" width="89.6" height="214.4" rx="36" fill="none" stroke="#a7aaae" stroke-width="1.6"/>
<rect x="1902" y="1759.5" width="82.4" height="207" rx="33" fill="none" stroke="#a7aaae" stroke-width="1.3"/>
<circle cx="1942.6" cy="1863.4" r="4.5" fill="none" stroke="#a7aaae" stroke-width="1.3"/>
<line x1="1898.0" y1="1863.4" x2="1921.0" y2="1863.4" stroke="#a7aaae" stroke-width="2.5"/>
<polygon points="1894.0,1850.0 1902.0,1850.0 1902.0,1892.0 1894.0,1892.0" fill="none" stroke="#a7aaae" stroke-width="1.2" stroke-linejoin="round"/>
<path d="M2204,1635.2 L2160,1635.2 A23.7,23.7 0 0 0 2160,1682.6 L2204,1682.6 M2191.2,1635.2 L2191.2,1682.6" fill="none" stroke="#a7aaae" stroke-width="1.5"/>
<polygon points="2140.6,1715.8 2204.0,1715.8 2204.0,1904.6 2140.6,1904.6" fill="none" stroke="#a7aaae" stroke-width="1.6" stroke-linejoin="round"/>
<rect x="2149.6" y="1731.8" width="38.4" height="157" rx="2" fill="none" stroke="#a7aaae" stroke-width="1.5"/>
<line x1="2149.6" y1="1780.2" x2="2188.0" y2="1780.2" stroke="#a7aaae" stroke-width="1.6"/>
<line x1="2149.6" y1="1839.4" x2="2188.0" y2="1839.4" stroke="#a7aaae" stroke-width="1.6"/>
<circle cx="2168.8" cy="1756" r="2.5" fill="none" stroke="#a7aaae" stroke-width="1.2"/>
<line x1="2181.0" y1="1755.5" x2="2204.0" y2="1755.5" stroke="#a7aaae" stroke-width="2.2"/>
<polygon points="2197.0,1767.0 2204.0,1767.0 2204.0,1771.0 2197.0,1771.0" fill="none" stroke="#a7aaae" stroke-width="1.1" stroke-linejoin="round"/>
<circle cx="2168.8" cy="1864.5" r="2.5" fill="none" stroke="#a7aaae" stroke-width="1.2"/>
<line x1="2181.0" y1="1864.0" x2="2204.0" y2="1864.0" stroke="#a7aaae" stroke-width="2.2"/>
<polygon points="2197.0,1875.5 2204.0,1875.5 2204.0,1879.5 2197.0,1879.5" fill="none" stroke="#a7aaae" stroke-width="1.1" stroke-linejoin="round"/>
<circle cx="2166.6" cy="1999" r="12" fill="none" stroke="#a7aaae" stroke-width="1.5"/>
<line x1="2178.6" y1="1999.0" x2="2204.0" y2="1999.0" stroke="#a7aaae" stroke-width="2.2"/>
<polygon points="2196.0,1972.0 2204.0,1972.0 2204.0,1976.0 2196.0,1976.0" fill="none" stroke="#a7aaae" stroke-width="1.1" stroke-linejoin="round"/>
<polygon points="2196.0,1985.0 2204.0,1985.0 2204.0,1989.0 2196.0,1989.0" fill="none" stroke="#a7aaae" stroke-width="1.1" stroke-linejoin="round"/>
<polyline points="2012.0,1972.8 2012.0,1923.2 2127.2,1923.2" fill="none" stroke="#a7aaae" stroke-width="1.6" stroke-linejoin="round"/>
<polygon points="1903.2,1588.0 2017.2,1588.0 2017.2,1594.5 1903.2,1594.5" fill="none" stroke="#8f9397" stroke-width="1.4" stroke-linejoin="round"/>
<polygon points="2319.0,1600.0 2324.0,1600.0 2324.0,1932.8 2319.0,1932.8" fill="none" stroke="#a7aaae" stroke-width="1.2" stroke-linejoin="round"/>
<polygon points="1974.0,1089.2 2073.2,1089.2 2073.2,1152.4 1974.0,1152.4" fill="none" stroke="#a7aaae" stroke-width="1.6" stroke-linejoin="round"/>
<rect x="1994" y="1099.1" width="43.8" height="37.9" rx="3" fill="none" stroke="#a7aaae" stroke-width="1.5"/>
<circle cx="2015.6" cy="1117.6" r="2.3" fill="none" stroke="#a7aaae" stroke-width="1.2"/>
<polygon points="2014.2,1129.0 2017.0,1129.0 2017.0,1152.4 2014.2,1152.4" fill="none" stroke="#a7aaae" stroke-width="1.1" stroke-linejoin="round"/>
<polygon points="2001.5,1146.0 2005.0,1146.0 2005.0,1152.4 2001.5,1152.4" fill="none" stroke="#a7aaae" stroke-width="1.1" stroke-linejoin="round"/>
<path d="M2106.5,1152.4 L2106.5,1108.8 A24.2,24.2 0 0 1 2154.9,1108.8 L2154.9,1152.4 M2106.5,1140.7 L2154.9,1140.7" fill="none" stroke="#a7aaae" stroke-width="1.5"/>
<line x1="2188.8" y1="969.7" x2="2188.8" y2="1152.4" stroke="#a7aaae" stroke-width="1.6"/>
<circle cx="2249.1" cy="1114.8" r="13" fill="none" stroke="#a7aaae" stroke-width="1.5"/>
<line x1="2249.1" y1="1128.0" x2="2249.1" y2="1152.4" stroke="#a7aaae" stroke-width="2"/>
<polygon points="2222.0,1145.0 2225.5,1145.0 2225.5,1152.4 2222.0,1152.4" fill="none" stroke="#a7aaae" stroke-width="1.1" stroke-linejoin="round"/>
<polygon points="2234.0,1145.0 2237.5,1145.0 2237.5,1152.4 2234.0,1152.4" fill="none" stroke="#a7aaae" stroke-width="1.1" stroke-linejoin="round"/>
<polygon points="1964.8,955.9 2078.8,955.9 2078.8,962.0 1964.8,962.0" fill="none" stroke="#8f9397" stroke-width="1.4" stroke-linejoin="round"/>
<polygon points="2092.6,866.0 2098.8,866.0 2098.8,948.0 2092.6,948.0" fill="none" stroke="#8f9397" stroke-width="1.4" stroke-linejoin="round"/>
<path d="M1879.1,998.9 L1928.9,964.1 L1931,967.5 L1881.2,1002.3 Z" fill="#fff" stroke="#8f9397" stroke-width="1.4"/>
<path d="M1857,1175.5 L1972.5,1348 L1976,1345.7 L1860.5,1173.2 Z" fill="#fff" stroke="#8f9397" stroke-width="1.4"/>
<polygon points="2106.5,1365.0 2214.3,1365.0 2214.3,1371.0 2106.5,1371.0" fill="none" stroke="#8f9397" stroke-width="1.4" stroke-linejoin="round"/>
<polygon points="2308.3,1277.0 2316.0,1277.0 2316.0,1423.5 2308.3,1423.5" fill="#fff" stroke="#a7aaae" stroke-width="1.3" stroke-linejoin="round"/>
<polygon points="2175.8,1514.4 2282.1,1514.4 2282.1,1520.5 2175.8,1520.5" fill="none" stroke="#8f9397" stroke-width="1.4" stroke-linejoin="round"/>
<polygon points="1371.3,967.4 1611.9,803.8 1801.7,1080.2 1562.1,1242.7" fill="none" stroke="#a7aaae" stroke-width="1.6" stroke-linejoin="round"/>
<polygon points="1334.8,1027.1 1557.1,884.4 1698.1,1096.8 1485.8,1242.7" fill="#fff" stroke="#a7aaae" stroke-width="1.6" stroke-linejoin="round"/>
<polygon points="1340.5,1030.0 1555.5,892.0 1691.5,1097.0 1488.5,1236.0" fill="none" stroke="#a7aaae" stroke-width="1.3" stroke-linejoin="round"/>
<polygon points="1303.3,980.6 1351.4,945.8 1386.3,995.6 1336.5,1028.7" fill="#fff" stroke="#a7aaae" stroke-width="1.6" stroke-linejoin="round"/>
<polygon points="1490.8,1254.3 1538.9,1219.5 1573.7,1269.3 1520.6,1304.1" fill="#fff" stroke="#a7aaae" stroke-width="1.6" stroke-linejoin="round"/>
<polygon points="1364.7,1040.4 1406.2,1015.5 1459.3,1091.8 1417.8,1120.0" fill="none" stroke="#a7aaae" stroke-width="1.6" stroke-linejoin="round"/>
<polygon points="1436.0,1141.5 1477.5,1116.6 1527.3,1193.0 1487.5,1222.8" fill="none" stroke="#a7aaae" stroke-width="1.6" stroke-linejoin="round"/>
<path d="M1404,997 C1470,1040 1530,1110 1608,1155 M1404,997 C1430,1060 1470,1140 1565,1168 L1608,1155" fill="none" stroke="#a7aaae" stroke-width="1.4"/>
<polygon points="1660.0,806.4 1701.5,779.9 1819.2,959.1 1777.8,985.6" fill="none" stroke="#a7aaae" stroke-width="1.6" stroke-linejoin="round"/>
<line x1="1723.0" y1="894.4" x2="1762.8" y2="867.8" stroke="#a7aaae" stroke-width="1.6"/>
<line x1="1297.0" y1="984.0" x2="1490.0" y2="1272.0" stroke="#a7aaae" stroke-width="1.3"/>
<line x1="1304.0" y1="981.0" x2="1497.0" y2="1267.0" stroke="#a7aaae" stroke-width="1.3"/>
<polyline points="1734.0,686.7 1910.3,570.0 2052.5,779.6 1874.3,901.0" fill="none" stroke="#a7aaae" stroke-width="1.6" stroke-linejoin="round"/>
<polygon points="1707.5,736.0 1870.5,628.0 1974.8,785.3 1817.4,895.3" fill="#fff" stroke="#a7aaae" stroke-width="1.6" stroke-linejoin="round"/>
<polygon points="1713.0,739.0 1869.0,635.5 1968.0,785.0 1819.5,888.0" fill="none" stroke="#a7aaae" stroke-width="1.3" stroke-linejoin="round"/>
<polygon points="1682.8,698.1 1720.8,673.5 1743.5,709.5 1707.5,736.0" fill="#fff" stroke="#a7aaae" stroke-width="1.6" stroke-linejoin="round"/>
<polygon points="1823.1,902.8 1859.2,880.1 1881.9,916.1 1844.0,940.0" fill="#fff" stroke="#a7aaae" stroke-width="1.6" stroke-linejoin="round"/>
<polygon points="1728.3,745.5 1760.6,724.6 1796.6,783.4 1770.0,804.3" fill="none" stroke="#a7aaae" stroke-width="1.6" stroke-linejoin="round"/>
<polygon points="1781.4,821.3 1811.8,802.4 1847.8,861.1 1819.3,882.0" fill="none" stroke="#a7aaae" stroke-width="1.6" stroke-linejoin="round"/>
<path d="M1758,712 C1790,770 1830,815 1908,829 M1758,712 C1775,775 1815,830 1882,846 L1908,829" fill="none" stroke="#a7aaae" stroke-width="1.4"/>
<line x1="1677.0" y1="704.0" x2="1834.0" y2="940.0" stroke="#a7aaae" stroke-width="1.3"/>
<line x1="1684.0" y1="700.0" x2="1842.0" y2="938.0" stroke="#a7aaae" stroke-width="1.3"/>
<text x="1479.2" y="1010.5" font-family="Liberation Sans" font-size="24" fill="#1b1b1b" stroke="#1b1b1b" stroke-width="0.45" textLength="240.5" lengthAdjust="spacing">PRIMARY BEDROOM</text>
<text x="1507.4" y="1040.4" font-family="Liberation Sans" font-size="24" fill="#1b1b1b" stroke="#1b1b1b" stroke-width="0.45" textLength="180.8" lengthAdjust="spacing">14' -  5&quot; X 12' - 0&quot;</text>
<text x="1845.9" y="720.9" font-family="Liberation Sans" font-size="24" fill="#1b1b1b" stroke="#1b1b1b" stroke-width="0.45" textLength="144.1" lengthAdjust="spacing">BEDROOM 2</text>
<text x="1830.7" y="751.2" font-family="Liberation Sans" font-size="24" fill="#1b1b1b" stroke="#1b1b1b" stroke-width="0.45" textLength="174.4" lengthAdjust="spacing">13' - 6&quot; X 11' - 2&quot;</text>
<text x="2473" y="653.5" font-family="Liberation Sans" font-size="24" fill="#1b1b1b" stroke="#1b1b1b" stroke-width="0.45" textLength="161.2" lengthAdjust="spacing">GREAT ROOM</text>
<text x="2467.6" y="682.8" font-family="Liberation Sans" font-size="24" fill="#1b1b1b" stroke="#1b1b1b" stroke-width="0.45" textLength="172.1" lengthAdjust="spacing">19' - 6&quot; X 14' - 1&quot;</text>
<text x="2467.6" y="1520.8" font-family="Liberation Sans" font-size="24" fill="#1b1b1b" stroke="#1b1b1b" stroke-width="0.45" textLength="105.5" lengthAdjust="spacing">KITCHEN</text>
<text x="2430.8" y="1549.5" font-family="Liberation Sans" font-size="24" fill="#1b1b1b" stroke="#1b1b1b" stroke-width="0.45" textLength="177.5" lengthAdjust="spacing">13' - 6&quot; X 12' - 5&quot;</text>
<text x="2743.6" y="1448.8" font-family="Liberation Sans" font-size="24" fill="#1b1b1b" stroke="#1b1b1b" stroke-width="0.45" textLength="29.4" lengthAdjust="spacing">SP</text>
<text x="2751.6" y="1542.2" font-family="Liberation Sans" font-size="24" fill="#1b1b1b" stroke="#1b1b1b" stroke-width="0.45" textLength="12.8" lengthAdjust="spacing">P</text>
<text x="2534.7" y="1655.1" font-family="Liberation Sans" font-size="24" fill="#1b1b1b" stroke="#1b1b1b" stroke-width="0.45" textLength="40.0" lengthAdjust="spacing">R/F</text>
<text x="2630.7" y="1655.1" font-family="Liberation Sans" font-size="24" fill="#1b1b1b" stroke="#1b1b1b" stroke-width="0.45" textLength="37.8" lengthAdjust="spacing">WR</text>
<text x="2629.1" y="1775.7" font-family="Liberation Sans" font-size="24" fill="#1b1b1b" stroke="#1b1b1b" stroke-width="0.45" textLength="48.9" lengthAdjust="spacing">W/D</text>
<text x="2533.1" y="1303.9" font-family="Liberation Sans" font-size="24" fill="#1b1b1b" stroke="#1b1b1b" stroke-width="0.45" textLength="38.4" lengthAdjust="spacing">DW</text>
<text x="2407.7" y="1899.2" font-family="Liberation Sans" font-size="24" fill="#1b1b1b" stroke="#1b1b1b" stroke-width="0.45" textLength="77.4" lengthAdjust="spacing">FOYER</text>
<text x="2630.8" y="1894.1" font-family="Liberation Sans" font-size="24" fill="#1b1b1b" stroke="#1b1b1b" stroke-width="0.45" textLength="105.1" lengthAdjust="spacing">POWDER</text>
<text x="2646.2" y="1923.6" font-family="Liberation Sans" font-size="24" fill="#1b1b1b" stroke="#1b1b1b" stroke-width="0.45" textLength="73.0" lengthAdjust="spacing">ROOM</text>
<text x="2039.3" y="1035.9" font-family="Liberation Sans" font-size="24" fill="#1b1b1b" stroke="#1b1b1b" stroke-width="0.45" textLength="63.5" lengthAdjust="spacing">BATH</text>
<text x="2130.5" y="915.8" font-family="Liberation Sans" font-size="24" fill="#1b1b1b" stroke="#1b1b1b" stroke-width="0.45" textLength="29.9" lengthAdjust="spacing">CL</text>
<text x="1899.5" y="1023.6" font-family="Liberation Sans" font-size="24" fill="#1b1b1b" stroke="#1b1b1b" stroke-width="0.45" textLength="28.9" lengthAdjust="spacing">CL</text>
<text x="2120.4" y="1291" font-family="Liberation Sans" font-size="24" fill="#1b1b1b" stroke="#1b1b1b" stroke-width="0.45" textLength="47.7" lengthAdjust="spacing">WIC</text>
<text x="1912.4" y="1220.2" font-family="Liberation Sans" font-size="24" fill="#1b1b1b" stroke="#1b1b1b" stroke-width="0.45" textLength="29.3" lengthAdjust="spacing">CL</text>
<text x="2208.8" y="1564.3" font-family="Liberation Sans" font-size="24" fill="#1b1b1b" stroke="#1b1b1b" stroke-width="0.45" textLength="30.8" lengthAdjust="spacing">CL</text>
<text x="1992.2" y="1757.4" font-family="Liberation Sans" font-size="24" fill="#1b1b1b" stroke="#1b1b1b" stroke-width="0.45" textLength="108.4" lengthAdjust="spacing">PRIMARY</text>
<text x="2015.2" y="1787.2" font-family="Liberation Sans" font-size="24" fill="#1b1b1b" stroke="#1b1b1b" stroke-width="0.45" textLength="63.0" lengthAdjust="spacing">BATH</text>
<text x="2268" y="1776" font-family="Liberation Sans" font-size="24" fill="#1b1b1b" stroke="#1b1b1b" stroke-width="0.45" textLength="29.8" lengthAdjust="spacing">CL</text>
<polyline points="175.5,1421.1 224.4,1408.3 303.4,1420.2 270.3,1435.9 175.5,1421.1" fill="none" stroke="#9a9ea2" stroke-width="1.25" stroke-linejoin="round" stroke-linecap="round"/>
<polyline points="175.5,1421.1 175.5,1435.0 270.3,1450.7 270.3,1435.9" fill="none" stroke="#9a9ea2" stroke-width="1.25" stroke-linejoin="round" stroke-linecap="round"/>
<polyline points="270.3,1450.7 302.8,1435.0 303.4,1420.2" fill="none" stroke="#9a9ea2" stroke-width="1.25" stroke-linejoin="round" stroke-linecap="round"/>
<polyline points="157.2,1435.9 175.5,1432.9" fill="none" stroke="#9a9ea2" stroke-width="1.25" stroke-linejoin="round" stroke-linecap="round"/>
<polyline points="157.2,1435.9 270.3,1452.2 316.2,1435.9 303.4,1433.8" fill="none" stroke="#9a9ea2" stroke-width="1.25" stroke-linejoin="round" stroke-linecap="round"/>
<polyline points="157.2,1435.9 174.0,1570.6" fill="none" stroke="#9a9ea2" stroke-width="1.25" stroke-linejoin="round" stroke-linecap="round"/>
<polyline points="188.8,1457.2 158.3,1720.2" fill="none" stroke="#9a9ea2" stroke-width="1.25" stroke-linejoin="round" stroke-linecap="round"/>
<polyline points="270.3,1452.2 239.2,1788.3" fill="none" stroke="#9a9ea2" stroke-width="1.25" stroke-linejoin="round" stroke-linecap="round"/>
<polyline points="316.2,1435.9 289.5,1659.4" fill="none" stroke="#9a9ea2" stroke-width="1.25" stroke-linejoin="round" stroke-linecap="round"/>
<polyline points="289.5,1659.4 286.6,1702.4" fill="none" stroke="#9a9ea2" stroke-width="1.0" stroke-linejoin="round" stroke-linecap="round"/>
<polyline points="289.5,1675.7 295.4,1711.3" fill="none" stroke="#9a9ea2" stroke-width="1.25" stroke-linejoin="round" stroke-linecap="round"/>
<polygon points="163.2,1665.4 251.7,1680.5 290.8,1657.9 290.8,1667.5 251.7,1690.1 163.2,1674.5" fill="#1c8444" stroke="#1c8444" stroke-width="0.8" stroke-linejoin="round" stroke-linecap="round"/>
<polyline points="135.5,1720.2 157.7,1714.2" fill="none" stroke="#9a9ea2" stroke-width="1.25" stroke-linejoin="round" stroke-linecap="round"/>
<polyline points="135.5,1720.2 245.1,1736.4" fill="none" stroke="#9a9ea2" stroke-width="1.25" stroke-linejoin="round" stroke-linecap="round"/>
<polyline points="158.3,1720.2 245.1,1735.0" fill="none" stroke="#9a9ea2" stroke-width="1.25" stroke-linejoin="round" stroke-linecap="round"/>
<polyline points="135.5,1720.2 135.5,1770.5 288.0,1797.1" fill="none" stroke="#9a9ea2" stroke-width="1.25" stroke-linejoin="round" stroke-linecap="round"/>
<polyline points="245.1,1724.6 357.6,1696.5 393.2,1703.9 399.1,1767.5 288.0,1797.1" fill="none" stroke="#9a9ea2" stroke-width="1.25" stroke-linejoin="round" stroke-linecap="round"/>
<polyline points="245.1,1724.6 288.0,1732.0 393.2,1703.9" fill="none" stroke="#9a9ea2" stroke-width="1.25" stroke-linejoin="round" stroke-linecap="round"/>
<polyline points="288.0,1732.0 288.0,1797.1" fill="none" stroke="#9a9ea2" stroke-width="1.25" stroke-linejoin="round" stroke-linecap="round"/>
<polyline points="245.1,1724.6 239.2,1788.3" fill="none" stroke="#9a9ea2" stroke-width="1.25" stroke-linejoin="round" stroke-linecap="round"/>
<polyline points="294.0,1683.1 379.8,1666.3 384.9,1672.8 384.9,1687.6 295.4,1709.8" fill="none" stroke="#9a9ea2" stroke-width="1.25" stroke-linejoin="round" stroke-linecap="round"/>
<polyline points="295.4,1693.5 384.9,1672.8" fill="none" stroke="#9a9ea2" stroke-width="1.25" stroke-linejoin="round" stroke-linecap="round"/>
<polyline points="393.9,1704.0 456.2,1687.2 485.5,1692.3 394.7,1716.5" fill="none" stroke="#9a9ea2" stroke-width="1.25" stroke-linejoin="round" stroke-linecap="round"/>
<polyline points="485.5,1692.3 488.4,1717.2 397.6,1740.7" fill="none" stroke="#9a9ea2" stroke-width="1.25" stroke-linejoin="round" stroke-linecap="round"/>
<polyline points="447.4,1728.9 496.5,1739.9" fill="none" stroke="#9a9ea2" stroke-width="1.25" stroke-linejoin="round" stroke-linecap="round"/>
<polyline points="350.2,1646.1 390.2,1635.8" fill="none" stroke="#9a9ea2" stroke-width="1.25" stroke-linejoin="round" stroke-linecap="round"/>
<polyline points="350.2,1646.1 350.2,1666.8" fill="none" stroke="#9a9ea2" stroke-width="1.25" stroke-linejoin="round" stroke-linecap="round"/>
<polyline points="350.2,1646.1 389.6,1651.5" fill="none" stroke="#9a9ea2" stroke-width="1.25" stroke-linejoin="round" stroke-linecap="round"/>
<path d="M389.6,1651.5 Q422.8,1663.9 477.6,1669.8" fill="none" stroke="#9a9ea2" stroke-width="1.25"/>
<polyline points="406.5,1468.4 446.5,1447.1 527.9,1460.2 458.3,1477.3 406.5,1468.4" fill="none" stroke="#9a9ea2" stroke-width="1.25" stroke-linejoin="round" stroke-linecap="round"/>
<polyline points="406.5,1468.4 406.5,1483.3 458.3,1490.7 527.9,1471.4 527.9,1460.2" fill="none" stroke="#9a9ea2" stroke-width="1.25" stroke-linejoin="round" stroke-linecap="round"/>
<polyline points="458.3,1477.3 458.3,1490.7" fill="none" stroke="#9a9ea2" stroke-width="1.25" stroke-linejoin="round" stroke-linecap="round"/>
<polyline points="394.6,1484.7 458.3,1495.1 544.2,1474.4 527.9,1472.0" fill="none" stroke="#9a9ea2" stroke-width="1.25" stroke-linejoin="round" stroke-linecap="round"/>
<polyline points="394.6,1484.7 406.5,1482.4" fill="none" stroke="#9a9ea2" stroke-width="1.25" stroke-linejoin="round" stroke-linecap="round"/>
<polyline points="394.6,1484.7 410.9,1646.1" fill="none" stroke="#9a9ea2" stroke-width="1.25" stroke-linejoin="round" stroke-linecap="round"/>
<polyline points="402.0,1548.4 389.6,1651.5" fill="none" stroke="#9a9ea2" stroke-width="1.25" stroke-linejoin="round" stroke-linecap="round"/>
<polyline points="458.3,1495.1 477.6,1669.8" fill="none" stroke="#9a9ea2" stroke-width="1.25" stroke-linejoin="round" stroke-linecap="round"/>
<polyline points="544.2,1474.4 532.3,1572.1 541.2,1655.0" fill="none" stroke="#9a9ea2" stroke-width="1.25" stroke-linejoin="round" stroke-linecap="round"/>
<polyline points="523.5,1504.0 532.3,1572.1" fill="none" stroke="#9a9ea2" stroke-width="1.0" stroke-linejoin="round" stroke-linecap="round"/>
<polyline points="477.4,1671.1 541.2,1654.9 555.8,1657.1 489.2,1674.0 477.4,1671.1" fill="none" stroke="#9a9ea2" stroke-width="1.25" stroke-linejoin="round" stroke-linecap="round"/>
<polyline points="489.2,1674.0 497.2,1740.0 555.8,1723.8 555.8,1657.1" fill="none" stroke="#9a9ea2" stroke-width="1.25" stroke-linejoin="round" stroke-linecap="round"/>
<polyline points="402.0,1743.8 496.8,1739.4" fill="none" stroke="#9a9ea2" stroke-width="0" stroke-linejoin="round" stroke-linecap="round"/>
<polyline points="135.5,1764.6 118.4,1769.9 120.7,1774.0 280.6,1803.1 295.4,1802.5 621.2,1712.7 622.7,1708.3 615.3,1703.9 556.0,1699.4" fill="none" stroke="#9a9ea2" stroke-width="1.25" stroke-linejoin="round" stroke-linecap="round"/>
<polyline points="399.1,1767.5 447.9,1753.3" fill="none" stroke="#9a9ea2" stroke-width="1.25" stroke-linejoin="round" stroke-linecap="round"/>
<path d="M555.8,1682.8 Q585,1688 640.8,1691.6 M555.8,1693 Q600,1697 651.1,1698.9 M555.8,1699.6 Q600,1702 651.1,1704.8 M555.8,1711.4 L604.2,1703.3 Q628,1705 620.3,1712.8" fill="none" stroke="#9a9ea2" stroke-width="1.1"/>
<polyline points="585.3,1702.0 585.3,1717.0 589.5,1717.0 589.5,1702.0" fill="none" stroke="#9a9ea2" stroke-width="1.1" stroke-linejoin="round" stroke-linecap="round"/>
<polyline points="604.3,1703.0 604.3,1712.5 608.5,1712.5 608.5,1703.0" fill="none" stroke="#9a9ea2" stroke-width="1.1" stroke-linejoin="round" stroke-linecap="round"/>
<polyline points="437.6,1746.8 445.0,1742.4 458.3,1742.4 471.6,1752.7 470.2,1758.6 459.8,1760.1 440.5,1754.2 437.6,1746.8" fill="none" stroke="#9a9ea2" stroke-width="1.1" stroke-linejoin="round" stroke-linecap="round"/>
<text x="216.4" y="1400.3" font-family="Liberation Sans" font-size="13.5" font-weight="normal" fill="#8e9295" textLength="39" lengthAdjust="spacing" transform="rotate(0 216.4 1400.3)">WEST</text>
<text x="452.4" y="1439.0" font-family="Liberation Sans" font-size="13.5" font-weight="normal" fill="#8e9295" textLength="35.6" lengthAdjust="spacing" transform="rotate(0 452.4 1439.0)">EAST</text>
<text x="116.5" y="1797.0" font-family="Liberation Sans" font-size="14" font-weight="normal" fill="#8e9295" textLength="134" lengthAdjust="spacing" transform="rotate(10.8 116.5 1797.0)">THE HUDSON RIVER</text>
<text x="327.0" y="1816.0" font-family="Liberation Sans" font-size="14" font-weight="normal" fill="#8e9295" textLength="13" lengthAdjust="spacing" transform="rotate(-15 327.0 1816.0)">17</text>
<text x="341.0" y="1808.0" font-family="Liberation Sans" font-size="8" font-weight="normal" fill="#8e9295" textLength="9" lengthAdjust="spacing" transform="rotate(-15 341.0 1808.0)">TH</text>
<text x="353.0" y="1808.0" font-family="Liberation Sans" font-size="14" font-weight="normal" fill="#8e9295" textLength="51" lengthAdjust="spacing" transform="rotate(-15 353.0 1808.0)">STREET</text>
<text x="305.0" y="1652.0" font-family="Liberation Sans" font-size="14" font-weight="normal" fill="#8e9295" textLength="13" lengthAdjust="spacing" transform="rotate(-19 305.0 1652.0)">18</text>
<text x="318.5" y="1644.0" font-family="Liberation Sans" font-size="8" font-weight="normal" fill="#8e9295" textLength="9" lengthAdjust="spacing" transform="rotate(-19 318.5 1644.0)">TH</text>
<text x="331.5" y="1645.0" font-family="Liberation Sans" font-size="14" font-weight="normal" fill="#8e9295" textLength="51" lengthAdjust="spacing" transform="rotate(-19 331.5 1645.0)">STREET</text>
<text x="563.4" y="1677.0" font-family="Liberation Sans" font-size="14" font-weight="normal" fill="#8e9295" textLength="97" lengthAdjust="spacing" transform="rotate(6.5 563.4 1677.0)">THE HIGH LINE</text>
<path d="M163.6,1931.0 L355.9,1931.0 L380.3,1997.1 L344.5,2012.5 Q333.1,2017.3 337.3,2028.7 L349.3,2056.5 Q352.6,2063.0 360.8,2063.0 L404.8,2063.0 L432.5,2128.2 L240.2,2128.2 Z" fill="none" stroke="#1f7c47" stroke-width="2.4" stroke-linejoin="round"/>
<polyline points="175.0,1952.2 207.6,1947.3 318.4,1947.3 336.3,1991.3 317.7,2012.5 287.4,2040.2 219.0,2071.1" fill="none" stroke="#1f7c47" stroke-width="2.4" stroke-linejoin="round" stroke-linecap="round"/>
<polygon points="267.9,1997.1 290.7,1988.7 293.9,1998.4 319.0,2013.4 308.6,2029.7 287.4,2040.2 278.6,2022.2" fill="#1f7c47" stroke="#1f7c47" stroke-width="1" stroke-linejoin="round" stroke-linecap="round"/>
<path d="M383.6,1931.0 L517.2,1931.0 Q533.5,2040.2 598.0,2128.2 L458.5,2128.2 Z" fill="none" stroke="#1f7c47" stroke-width="2.4" stroke-linejoin="round"/>
<polyline points="412.9,1979.9 494.4,1947.3 556.3,2111.2 455.3,2111.2" fill="none" stroke="#1f7c47" stroke-width="2.4" stroke-linejoin="round" stroke-linecap="round"/>
<polyline points="412.9,1979.9 421.1,2023.9" fill="none" stroke="#1f7c47" stroke-width="2.4" stroke-linejoin="round" stroke-linecap="round"/>
<text x="160.0" y="1980.0" font-family="Liberation Sans" font-size="14.5" font-weight="bold" fill="#1f7c47" textLength="128" lengthAdjust="spacingAndGlyphs" transform="rotate(67 160.0 1980.0)">THE HUDSON RIVER</text>
<text x="359.0" y="2032.0" font-family="Liberation Sans" font-size="13.5" font-weight="bold" fill="#1f7c47" textLength="47" lengthAdjust="spacingAndGlyphs" transform="rotate(0 359.0 2032.0)">PORTE-</text>
<text x="352.6" y="2046.7" font-family="Liberation Sans" font-size="13.5" font-weight="bold" fill="#1f7c47" textLength="62" lengthAdjust="spacingAndGlyphs" transform="rotate(0 352.6 2046.7)">COCHÈRE</text>
<text x="545.0" y="1984.0" font-family="Liberation Sans" font-size="14.5" font-weight="bold" fill="#1f7c47" textLength="100" lengthAdjust="spacingAndGlyphs" transform="rotate(63 545.0 1984.0)">THE HIGH LINE</text>
<circle cx="608.5" cy="1972.4" r="11" fill="none" stroke="#1f7c47" stroke-width="2.2"/>
<line x1="608.5" y1="1972.4" x2="602.5" y2="1974.9" stroke="#1f7c47" stroke-width="2"/>
<text x="589.5" y="1956.4" font-family="Liberation Sans" font-size="12.5" font-weight="normal" fill="#1f7c47" textLength="9" lengthAdjust="spacingAndGlyphs" transform="rotate(63 589.5 1956.4)">N</text>
<path d="M112.4,2211.3 L153.8,2211.3 L153.8,2222.7 M153.8,2233 L305.3,2233 L305.3,2222.7 M305.3,2211.3 L497,2211.3 L497,2233 M112.4,2222.7 L497,2222.7 M112.4,2211.3 L112.4,2233 M153.8,2211.3 L153.8,2233 M305.3,2211.3 L305.3,2233" fill="none" stroke="#1f7c47" stroke-width="3.2" stroke-linecap="square"/>
<text x="112.4" y="2261.8" font-family="Liberation Sans" font-size="17" font-weight="bold" fill="#1f7c47" textLength="12" lengthAdjust="spacingAndGlyphs">0'</text>
<text x="152" y="2261.8" font-family="Liberation Sans" font-size="17" font-weight="bold" fill="#1f7c47" textLength="10" lengthAdjust="spacingAndGlyphs">1'</text>
<text x="299.5" y="2261.8" font-family="Liberation Sans" font-size="17" font-weight="bold" fill="#1f7c47" textLength="11.7" lengthAdjust="spacingAndGlyphs">5'</text>
<text x="489.5" y="2261.8" font-family="Liberation Sans" font-size="17" font-weight="bold" fill="#1f7c47" textLength="18" lengthAdjust="spacingAndGlyphs">10'</text>
<circle cx="166" cy="2383.3" r="52.5" fill="none" stroke="#1f7c47" stroke-width="3"/>
<text x="152.5" y="2399" font-family="Liberation Sans" font-size="46" fill="#1f7c47" textLength="28" lengthAdjust="spacingAndGlyphs">N</text>
<polygon points="154.5,2434.5 191,2432 176.3,2452" fill="#1f7c47"/>
</svg></body></html>
